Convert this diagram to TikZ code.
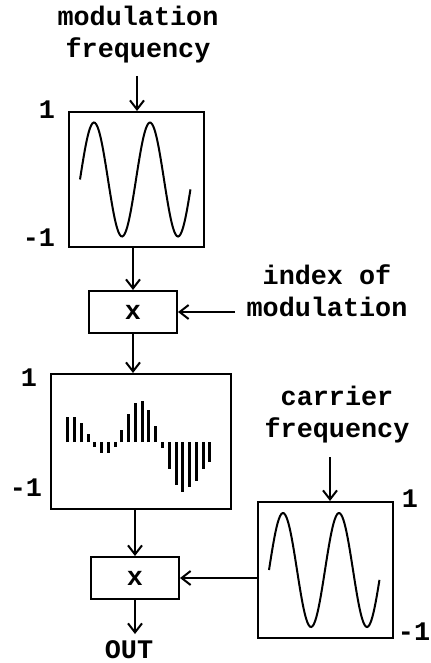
\documentclass[tikz,border=0pt]{standalone}
\usepackage{fontspec}
\setmonofont{Liberation Mono}
\usetikzlibrary{arrows.meta,positioning}

\begin{document}
\begin{tikzpicture}[x=0.5pt,y=-0.5pt,
  every node/.style={font=\ttfamily\bfseries\fontsize{13.4}{16}\selectfont,inner sep=0pt},
  sigbox/.style={draw,line width=1pt,minimum width=67.5pt,minimum height=67.5pt},
  multbox/.style={draw,line width=1pt,minimum width=44pt,minimum height=21pt},
  arr/.style={line width=1pt,-{Straight Barb[length=4.5pt,width=7pt,line width=1pt]}},
  wave/.style={line width=1pt},
  bar/.style={line width=1.5pt}]
  \useasboundingbox[fill=white] (0,0) rectangle (430,663);

  % boxes
  \node[sigbox] (modbox) at (136.5,179.5) {};
  \node[multbox] (mult1) at (133,312) {x};
  \node[sigbox,minimum width=90pt] (midbox) at (141,441.5) {};
  \node[multbox] (mult2) at (135,578) {x};
  \node[sigbox,minimum height=68pt] (carbox) at (325.5,570) {};

  % texts
  \node[align=center] (modlabel) at (138,35) {modulation\\frequency};
  \node[align=center] (idxlabel) at (327,291) {index of\\modulation};
  \node[align=center] (carlabel) at (337,415) {carrier\\frequency};
  \node (out) at (129,650) {OUT};
  \node (modhi) at (47,110) {1};
  \node (modlo) at (39,238) {-1};
  \node (midhi) at (29,378) {1};
  \node (midlo) at (26,488) {-1};
  \node (carhi) at (410,499) {1};
  \node (carlo) at (414,632) {-1};

  % sine waves
  \foreach \b in {modbox,carbox} {
    \draw[wave,shift={(\b.center)}] plot[domain=0:710,samples=90,smooth]
      ({-56.5+\x/360*56},{-57*sin(\x)});
  }

  % modulated signal
  \foreach \h [count=\i] in {25,25,19,8,-5,-11,-11,-5,12,28,39,41,32,16,-6,-27,-43,-50,-45,-39,-27,-20} {
    \draw[bar,shift={(midbox.center)}] ({-73.3+6.77*(\i-1)},0.5) -- ++(0,-\h);
  }

  % connectors
  \coordinate (modin) at (137,76);
  \coordinate (idxin) at (235,312);
  \coordinate (carin) at (330,457);
  \coordinate (outpt) at (134,634);
  \draw[arr] (modin) -- (modin |- modbox.north);
  \draw[arr] (mult1.north |- modbox.south) -- (mult1.north);
  \draw[arr] (idxin) -- (mult1.east);
  \draw[arr] (mult1.south) -- (mult1.south |- midbox.north);
  \draw[arr] (mult2.north |- midbox.south) -- (mult2.north);
  \draw[arr] (carin) -- (carin |- carbox.north);
  \draw[arr] (carbox.west |- mult2.east) -- (mult2.east);
  \draw[arr] (mult2.south) -- (mult2.south |- outpt);
\end{tikzpicture}
\end{document}
